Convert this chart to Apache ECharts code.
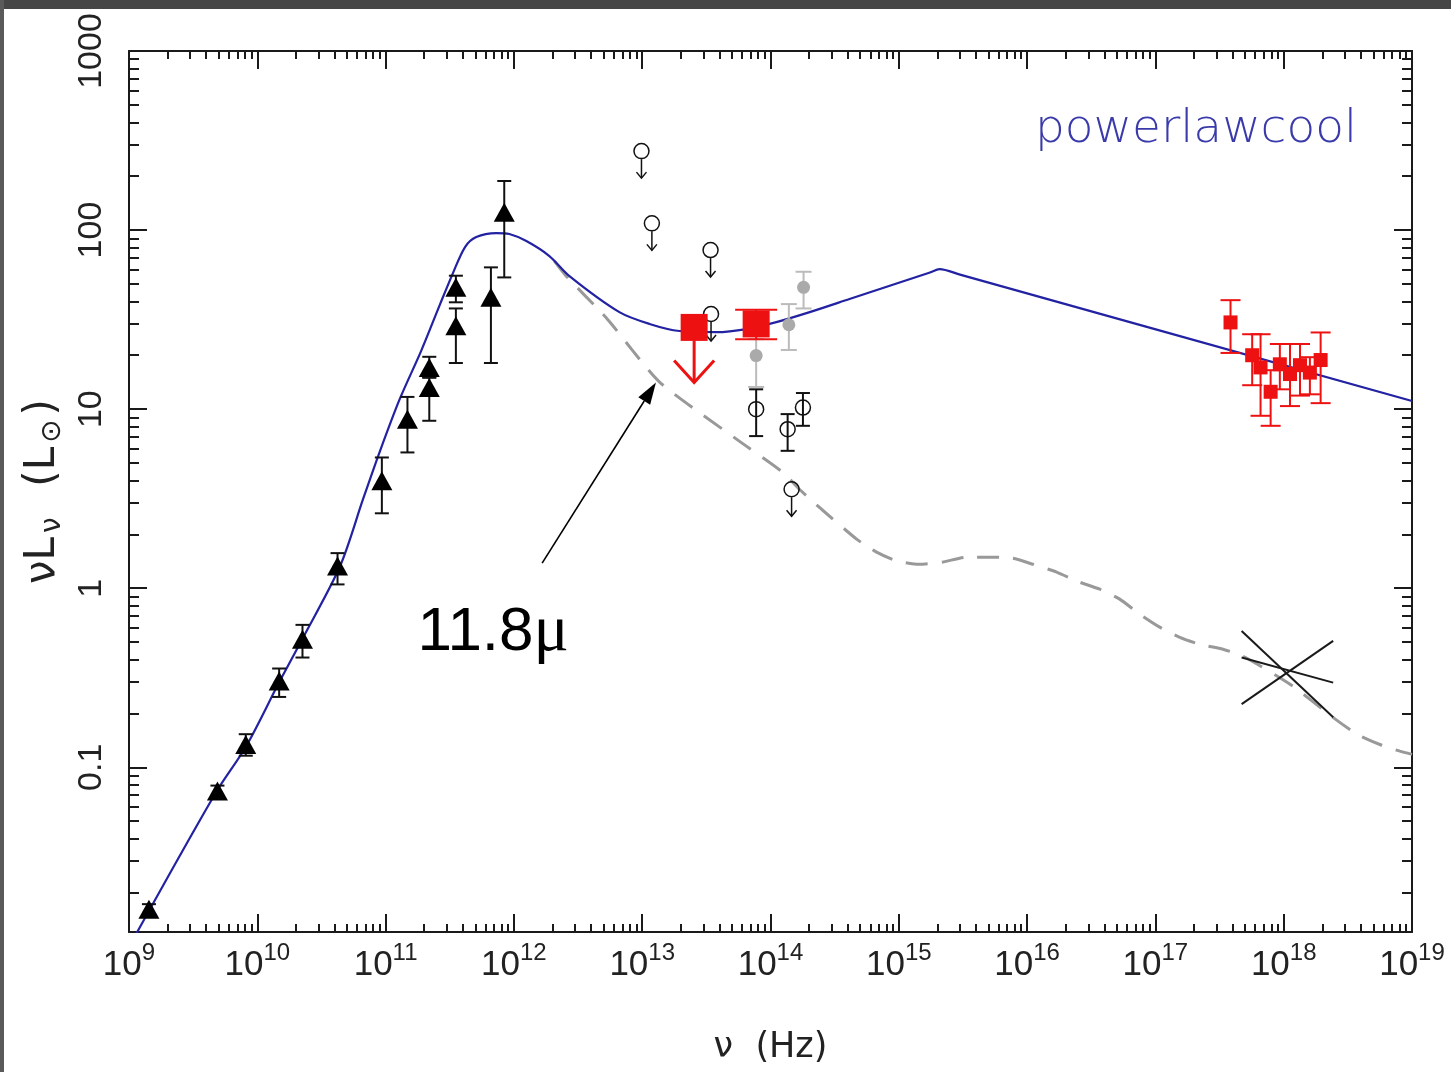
<!DOCTYPE html>
<html>
<head>
<meta charset="utf-8">
<script src="https://cdn.jsdelivr.net/npm/echarts@6.0.0/dist/echarts.min.js"></script>
<style>
  html, body { margin: 0; padding: 0; background: #fff; }
  #chart { width: 1451px; height: 1072px; }
</style>
</head>
<body>
<div id="chart"></div>
<script>
// frequencies in Hz, luminosities nuL_nu in Lsun

// powerlawcool model (blue)
const modelNu = [1.09e9, 4.77e9, 8.19e9, 1.48e10, 2.24e10, 4.42e10, 6.67e10, 9.04e10, 1.29e11, 1.89e11,
  2.66e11, 3.35e11, 4.16e11, 5.09e11, 7.29e11, 9.21e11, 1.25e12, 1.89e12, 2.71e12, 6.64e12,
  1.14e13, 1.95e13, 3.79e13, 6.50e13, 1.11e14, 2.02e14, 4.13e14, 1.75e15, 2.08e15, 3.0e15, 1e19];
const modelL = [0.0111, 0.0725, 0.131, 0.298, 0.519, 1.33, 3.14, 5.83, 11.4, 21.1,
  38.6, 57.5, 80.4, 91.4, 96.2, 95.0, 86.8, 71.6, 55.3, 34.8,
  29.9, 27.3, 26.9, 28.0, 30.6, 34.8, 41.2, 58.0, 60.5, 56.4, 11.1];

// dust-only component (grey dashed)
const dustNu = [2.07e12, 2.56e12, 5.36e12, 1.36e13, 5.43e13, 1.24e14, 1.68e14, 2.50e14, 4.69e14, 6.71e14,
  9.62e14, 1.45e15, 2.20e15, 3.38e15, 5.11e15, 7.72e15, 1.11e16, 1.70e16, 2.48e16, 3.68e16,
  5.27e16, 7.55e16, 1.08e17, 1.55e17, 2.22e17, 3.36e17, 4.81e17, 1.12e18, 2.42e18, 3.72e18,
  5.62e18, 8.05e18, 1e19];
const dustL = [67.1, 55.3, 31.8, 14.2, 6.80, 4.45, 3.57, 2.76, 1.88, 1.59,
  1.42, 1.36, 1.40, 1.49, 1.49, 1.47, 1.36, 1.23, 1.09, 0.987,
  0.869, 0.716, 0.606, 0.532, 0.486, 0.456, 0.417, 0.291, 0.190, 0.153,
  0.134, 0.123, 0.118];

// radio / submm (black triangles)
const radioNu = [1.43e9, 4.89e9, 8.13e9, 1.48e10, 2.25e10, 4.22e10, 9.35e10, 1.48e11, 2.19e11, 2.19e11, 3.53e11, 3.53e11, 6.62e11, 8.41e11];
const radioL  = [0.0161, 0.0737, 0.134, 0.303, 0.519, 1.33, 3.98, 8.79, 17.1, 13.2, 47.9, 29.2, 42.1, 125.6];
const radioLo = [0.0150, 0.069, 0.116, 0.247, 0.410, 1.05, 2.62, 5.73, 15.0, 8.61, 39.5, 18.1, 18.1, 54.4];
const radioHi = [0.0172, 0.079, 0.153, 0.356, 0.624, 1.57, 5.37, 11.7, 19.6, 15.0, 55.6, 36.5, 61.9, 188];

// mid-IR detections (open circles)
const irNu = [7.73e13, 1.36e14, 1.79e14];
const irL  = [10.0, 7.73, 10.2];
const irLo = [7.07, 5.85, 8.07];
const irHi = [12.9, 9.38, 12.3];

// upper limits (open circles with arrows)
const limNu = [9.87e12, 1.19e13, 3.41e13, 3.44e13, 1.46e14];
const limL  = [276, 109, 77.3, 34.0, 3.57];

// grey points
const greyNu = [7.73e13, 1.39e14, 1.81e14];
const greyL  = [19.9, 29.6, 47.9];
const greyLo = [13.3, 21.4, 36.5];
const greyHi = [24.6, 38.6, 58.5];

// red: 11.8 micron upper limit and near-IR detection
const redLimNu = [2.54e13];
const redLimL  = [28.6];
const redNu = [7.73e13];
const redL  = [29.9];
const redLo = [24.6];
const redHi = [35.9];

// X-ray (small red squares)
const xrayNu = [3.85e17, 5.68e17, 6.60e17, 7.91e17, 9.33e17, 1.12e18, 1.34e18, 1.60e18, 1.94e18];
const xrayL  = [30.5, 20.0, 17.1, 12.5, 17.8, 15.7, 17.6, 16.0, 18.8];
const xrayLo = [20.6, 13.6, 9.18, 8.07, 12.9, 10.4, 11.9, 12.1, 10.8];
const xrayHi = [40.6, 26.2, 26.2, 16.5, 23.1, 23.1, 23.1, 19.5, 26.8];

// X-ray bow tie: three slopes through the same pivot
const bowNu = [4.70e17, 2.43e18];
const bowA  = [0.577, 0.190];
const bowB  = [0.225, 0.508];
const bowC  = [0.410, 0.297];

// 11.8 micron annotation: arrow start, arrow tip, label centre
const annoNu = [1.66e12, 1.28e13, 6.9e11];
const annoL  = [1.38, 14.1, 0.561];

// axes (log10)
const xDecades = [9, 10, 11, 12, 13, 14, 15, 16, 17, 18, 19];
const yDecades = [-1, 0, 1, 2, 3];
const yLabels = ['0.1', '1', '10', '100', '1000'];
const xMin = 9, xMax = 19, yMin = -1.92, yMax = 3;

const lg = Math.log10;
const FONT = '"Liberation Sans", Arial, sans-serif';
const WIDE = '"DejaVu Sans", sans-serif';
const INK = '#1a1a1a';

function pts(xs, ys) { return xs.map((x, i) => [lg(x), lg(ys[i])]); }
function bars(xs, ys, lo, hi) { return xs.map((x, i) => [lg(x), lg(ys[i]), lg(lo[i]), lg(hi[i])]); }
function minors(lo, hi) {
  const out = [];
  for (let n = lo; n <= hi; n++) for (let k = 2; k <= 9; k++) out.push(n + lg(k));
  return out;
}

function errorBars(color, cap, width) {
  return (params, api) => {
    const x = api.value(0);
    const top = api.coord([x, api.value(3)]);
    const bot = api.coord([x, api.value(2)]);
    const style = { stroke: color, lineWidth: width };
    return { type: 'group', children: [
      { type: 'line', shape: { x1: top[0], y1: top[1], x2: bot[0], y2: bot[1] }, style },
      { type: 'line', shape: { x1: top[0] - cap, y1: top[1], x2: top[0] + cap, y2: top[1] }, style },
      { type: 'line', shape: { x1: bot[0] - cap, y1: bot[1], x2: bot[0] + cap, y2: bot[1] }, style }
    ]};
  };
}

function limitArrows(color, gap, len, hw, hh, width) {
  return (params, api) => {
    const p = api.coord([api.value(0), api.value(1)]);
    const y0 = p[1] + gap, y1 = y0 + len;
    const style = { stroke: color, lineWidth: width, fill: null };
    return { type: 'group', children: [
      { type: 'line', shape: { x1: p[0], y1: y0, x2: p[0], y2: y1 }, style },
      { type: 'polyline', shape: { points: [[p[0] - hw, y1 - hh], [p[0], y1], [p[0] + hw, y1 - hh]] }, style }
    ]};
  };
}

function segments(color, width) {
  return (params, api) => {
    const a = api.coord([api.value(0), api.value(1)]);
    const b = api.coord([api.value(2), api.value(3)]);
    return { type: 'line', shape: { x1: a[0], y1: a[1], x2: b[0], y2: b[1] }, style: { stroke: color, lineWidth: width } };
  };
}

function arrowItem(params, api) {
  const a = api.coord([api.value(0), api.value(1)]);
  const b = api.coord([api.value(2), api.value(3)]);
  const ang = Math.atan2(b[1] - a[1], b[0] - a[0]);
  const L = 22, W = 7;
  const bx = b[0] - L * Math.cos(ang), by = b[1] - L * Math.sin(ang);
  const nx = -Math.sin(ang) * W, ny = Math.cos(ang) * W;
  return { type: 'group', children: [
    { type: 'line', shape: { x1: a[0], y1: a[1], x2: bx, y2: by }, style: { stroke: '#000', lineWidth: 1.6 } },
    { type: 'polygon', shape: { points: [[b[0], b[1]], [bx + nx, by + ny], [bx - nx, by - ny]] }, style: { fill: '#000' } }
  ]};
}

function frameAxis(position, min, max, ticks, len, withLine) {
  return {
    type: 'value', position, min, max,
    axisLine: { show: withLine, onZero: false, lineStyle: { color: INK, width: 2 } },
    axisTick: { show: true, inside: true, length: len, customValues: ticks, lineStyle: { color: INK, width: 2 } },
    axisLabel: { show: false },
    splitLine: { show: false },
    axisPointer: { show: false }
  };
}

const xMinor = minors(9, 18);
const yMinor = minors(-2, 2);

const xMain = frameAxis('bottom', xMin, xMax, xDecades, 18, true);
xMain.axisLabel = {
  show: true, customValues: xDecades, margin: 9,
  formatter: v => '{b|10}{s|' + v + '}',
  rich: {
    b: { fontSize: 35, fontFamily: FONT, color: '#222', lineHeight: 48 },
    s: { fontSize: 24, fontFamily: FONT, color: '#222', lineHeight: 24, verticalAlign: 'top' }
  }
};
xMain.name = 'ν  (Hz)';
xMain.nameLocation = 'middle';
xMain.nameGap = 98;
xMain.nameTextStyle = { fontSize: 35, fontFamily: WIDE, color: '#222' };

const yMain = frameAxis('left', yMin, yMax, yDecades, 18, true);
yMain.axisLabel = {
  show: true, customValues: yDecades, margin: 20, rotate: 90,
  fontSize: 34, fontFamily: FONT, color: '#222',
  formatter: v => yLabels[yDecades.indexOf(Math.round(v))]
};
yMain.name = '{m|νL}{s|ν}{m|  (L}{s|⊙}{m|)}';
yMain.nameLocation = 'middle';
yMain.nameRotate = 90;
yMain.nameGap = 52;
yMain.nameTextStyle = {
  rich: {
    m: { fontSize: 42, fontFamily: WIDE, color: '#222', lineHeight: 48 },
    s: { fontSize: 28, fontFamily: WIDE, color: '#222', lineHeight: 28, verticalAlign: 'bottom', padding: [0, 4, 0, 4] }
  }
};

const option = {
  animation: false,
  backgroundColor: '#fff',
  grid: { left: 129, right: 39, top: 51, bottom: 140 },
  xAxis: [
    xMain,
    frameAxis('bottom', xMin, xMax, xMinor, 8, false),
    frameAxis('top', xMin, xMax, xDecades, 18, true),
    frameAxis('top', xMin, xMax, xMinor, 8, false)
  ],
  yAxis: [
    yMain,
    frameAxis('left', yMin, yMax, yMinor, 10, false),
    frameAxis('right', yMin, yMax, yDecades, 18, true),
    frameAxis('right', yMin, yMax, yMinor, 10, false)
  ],
  graphic: [
    { type: 'rect', z: 100, shape: { x: 0, y: 0, width: 1451, height: 9 }, style: { fill: '#464646' } },
    { type: 'rect', z: 100, shape: { x: 0, y: 0, width: 4, height: 1072 }, style: { fill: '#5a5a5a' } },
    { type: 'text', z: 50, x: 1196, y: 130,
      style: { text: 'powerlawcool', fontSize: 47, fontWeight: 200, fontFamily: WIDE, fill: '#3a3aaa', align: 'center', verticalAlign: 'middle' } }
  ],
  series: [
    { name: 'dust', type: 'line', data: pts(dustNu, dustL), showSymbol: false, silent: true, z: 2, smooth: 0.2,
      lineStyle: { color: '#999', width: 3, type: [22, 14] } },
    { name: 'powerlawcool', type: 'line', data: pts(modelNu, modelL), showSymbol: false, silent: true, z: 3, smooth: 0.3,
      lineStyle: { color: '#2222a2', width: 2.2 } },
    { name: 'bowtie', type: 'custom', silent: true, z: 4, renderItem: segments('#1a1a1a', 2),
      data: [bowA, bowB, bowC].map(b => [lg(bowNu[0]), lg(b[0]), lg(bowNu[1]), lg(b[1])]) },
    { name: 'annotation arrow', type: 'custom', silent: true, z: 4, renderItem: arrowItem,
      data: [[lg(annoNu[0]), lg(annoL[0]), lg(annoNu[1]), lg(annoL[1])]] },
    { name: 'annotation', type: 'scatter', silent: true, z: 4, symbolSize: 1,
      itemStyle: { color: 'rgba(0,0,0,0)', opacity: 1 },
      data: [[lg(annoNu[2]), lg(annoL[2])]],
      label: { show: true, position: 'inside', opacity: 1, formatter: '{a|11.8}{b|μ}',
        rich: { a: { fontSize: 62, fontFamily: FONT, color: '#000' },
                b: { fontSize: 66, fontFamily: '"Liberation Serif", serif', color: '#000' } } } },

    { name: 'radio err', type: 'custom', silent: true, z: 5, renderItem: errorBars('#111', 7, 2),
      data: bars(radioNu, radioL, radioLo, radioHi) },
    { name: 'radio', type: 'scatter', silent: true, z: 6, symbol: 'triangle', symbolSize: [21, 19],
      itemStyle: { color: '#000', opacity: 1 }, data: pts(radioNu, radioL) },

    { name: 'grey err', type: 'custom', silent: true, z: 5, renderItem: errorBars('#bbbbbb', 8, 2),
      data: bars(greyNu, greyL, greyLo, greyHi) },
    { name: 'grey', type: 'scatter', silent: true, z: 6, symbol: 'circle', symbolSize: 13,
      itemStyle: { color: '#aaaaaa', opacity: 1 }, data: pts(greyNu, greyL) },

    { name: 'ir err', type: 'custom', silent: true, z: 5, renderItem: errorBars('#111', 7, 2),
      data: bars(irNu, irL, irLo, irHi) },
    { name: 'ir', type: 'scatter', silent: true, z: 6, symbol: 'circle', symbolSize: 15,
      itemStyle: { color: 'rgba(255,255,255,0)', borderColor: '#111', borderWidth: 1.5, opacity: 1 }, data: pts(irNu, irL) },

    { name: 'limit arrows', type: 'custom', silent: true, z: 5, renderItem: limitArrows('#111', 8, 19, 5, 6, 1.5),
      data: pts(limNu, limL) },
    { name: 'limits', type: 'scatter', silent: true, z: 6, symbol: 'circle', symbolSize: 15,
      itemStyle: { color: 'rgba(255,255,255,0)', borderColor: '#111', borderWidth: 1.5, opacity: 1 }, data: pts(limNu, limL) },

    { name: 'red err', type: 'custom', silent: true, z: 7, renderItem: errorBars('#ee1111', 21, 2),
      data: bars(redNu, redL, redLo, redHi) },
    { name: 'red limit arrow', type: 'custom', silent: true, z: 7, renderItem: limitArrows('#ee1111', 13, 42, 20, 22, 3),
      data: pts(redLimNu, redLimL) },
    { name: 'red', type: 'scatter', silent: true, z: 8, symbol: 'rect', symbolSize: 27,
      itemStyle: { color: '#ee1111', opacity: 1 }, data: pts(redLimNu, redLimL).concat(pts(redNu, redL)) },

    { name: 'xray err', type: 'custom', silent: true, z: 7, renderItem: errorBars('#ee1111', 10, 2),
      data: bars(xrayNu, xrayL, xrayLo, xrayHi) },
    { name: 'xray', type: 'scatter', silent: true, z: 8, symbol: 'rect', symbolSize: 14,
      itemStyle: { color: '#ee1111', opacity: 1 }, data: pts(xrayNu, xrayL) }
  ]
};

const chart = echarts.init(document.getElementById('chart'));
chart.setOption(option);
</script>
</body>
</html>
